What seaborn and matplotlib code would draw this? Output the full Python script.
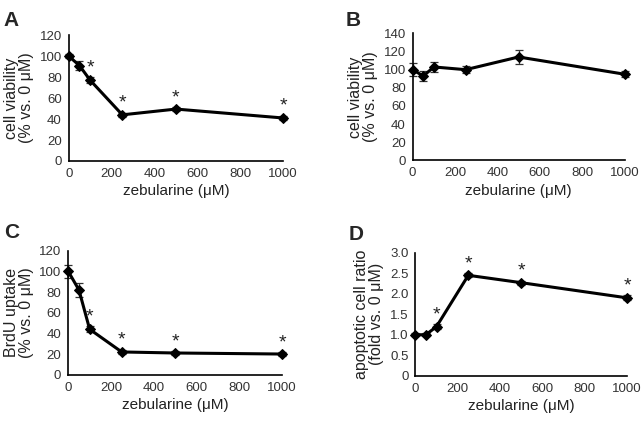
import matplotlib
matplotlib.use("Agg")
from matplotlib import pyplot as plt
import seaborn as sns
import pandas as pd

# data
dose = [0, 50, 100, 250, 500, 1000]

viab_a = [100, 91, 77, 44, 49.5, 41]
viab_a_err = [2, 4, 3, 2, 2, 2]
star_a = [False, False, True, True, True, True]

viab_b = [100, 93, 103, 100, 114, 95]
viab_b_err = [7, 6, 6, 4, 8, 3]
star_b = [False] * 6

brdu_c = [100, 82, 44, 22, 21, 20]
brdu_c_err = [6, 7, 3, 2, 2, 2]
star_c = [False, False, True, True, True, True]

apop_d = [1.0, 1.0, 1.2, 2.45, 2.27, 1.9]
apop_d_err = [0.03, 0.04, 0.05, 0.05, 0.05, 0.06]
star_d = [False, False, True, True, True, True]

sns.set_style("white")
plt.rcParams['font.family'] = ['Liberation Sans', 'DejaVu Sans']

fig = plt.figure(figsize=(6.44, 4.21), dpi=100)

panels = [
    ("A", [0.1067, 0.6176, 0.333, 0.299], viab_a, viab_a_err, star_a,
     (0, 120), [0, 20, 40, 60, 80, 100, 120], "cell viability\n(% vs. 0 \u03bcM)", 6, (0.006, 0.975)),
    ("B", [0.6408, 0.619, 0.329, 0.3017], viab_b, viab_b_err, star_b,
     (0, 140), [0, 20, 40, 60, 80, 100, 120, 140], "cell viability\n(% vs. 0 \u03bcM)", 6, (0.536, 0.975)),
    ("C", [0.106, 0.110, 0.332, 0.2945], brdu_c, brdu_c_err, star_c,
     (0, 120), [0, 20, 40, 60, 80, 100, 120], "BrdU uptake\n(% vs. 0 \u03bcM)", 6, (0.006, 0.47)),
    ("D", [0.645, 0.1076, 0.3287, 0.292], apop_d, apop_d_err, star_d,
     (0, 3.0), [0, 0.5, 1.0, 1.5, 2.0, 2.5, 3.0], "apoptotic cell ratio\n(fold vs. 0 \u03bcM)", 0.15, (0.542, 0.465)),
]

for letter, rect, vals, errs, stars, ylim, yticks, ylabel, off, lpos in panels:
    ax = fig.add_axes(rect)
    df = pd.DataFrame({'dose': dose, 'value': vals})
    ax.errorbar(dose, vals, yerr=errs, fmt='none', ecolor='#333333',
                elinewidth=0.9, capsize=3, capthick=0.9, clip_on=False, zorder=2)
    sns.lineplot(data=df, x='dose', y='value', ax=ax, color='black',
                 linewidth=2.2, marker='D', markersize=5, markeredgecolor='black',
                 clip_on=False, zorder=3)
    for x, y, e, s in zip(dose, vals, errs, stars):
        if s:
            ax.text(x, y + e + off * 0.15, '*', ha='center', va='bottom',
                    fontsize=14, color='#222222')
    ax.set_xlim(0, 1000)
    ax.set_ylim(*ylim)
    ax.set_xticks([0, 200, 400, 600, 800, 1000])
    ax.set_yticks(yticks)
    if letter == "D":
        ax.set_yticklabels(['0', '0.5', '1.0', '1.5', '2.0', '2.5', '3.0'])
    ax.tick_params(axis='both', direction='out', length=3, width=1,
                   labelsize=9.5, colors='black', labelcolor='#333333', pad=2)
    sns.despine(ax=ax)
    for sp in ['left', 'bottom']:
        ax.spines[sp].set_color('black')
        ax.spines[sp].set_linewidth(1.2)
    ax.set_xlabel('zebularine (\u03bcM)', fontsize=11, color='#222222', labelpad=3)
    ax.set_ylabel(ylabel, fontsize=11.5, color='#222222', labelpad=4, linespacing=1.0)
    fig.text(lpos[0], lpos[1], letter, fontsize=15, fontweight='bold',
             ha='left', va='top')

fig.savefig('out.png', dpi=100)
